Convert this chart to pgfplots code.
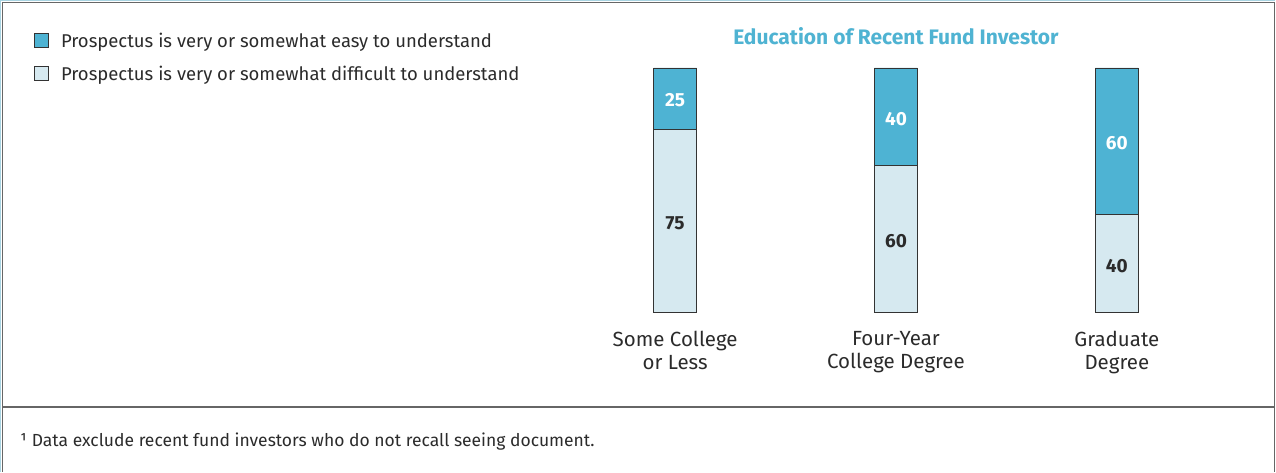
\documentclass[border=0pt]{standalone}
\usepackage{fontspec}
\setmainfont{Fira Sans}
\usepackage{pgfplots}
\pgfplotsset{compat=1.18}
\definecolor{darkbar}{HTML}{4EB3D3}
\definecolor{lightbar}{HTML}{D6E9F0}
\definecolor{titleblue}{HTML}{4FB3D2}
\definecolor{framegray}{HTML}{666666}
\definecolor{edgeblue}{HTML}{A9D4E2}
\definecolor{outline}{HTML}{333333}
\definecolor{txt}{HTML}{2B2B2B}
\tikzset{lab/.style={anchor=center, inner sep=0pt, yshift=-2pt, font=\bfseries\fontsize{19}{22}\selectfont}}
\begin{document}
\begin{tikzpicture}[x=1pt,y=1pt]
\path (0,0) rectangle (1276,472);
\draw[edgeblue, line width=1.5pt] (0.75,0) -- (0.75,471.25) -- (1276,471.25);
\draw[framegray, line width=1.5pt] (2.5,0) -- (2.5,469.5) -- (1275,469.5) -- (1275,0);
\draw[framegray, line width=1.5pt] (2.5,65) -- (1275,65);
\node[anchor=base west, inner sep=0pt, font=\fontsize{17.5}{20}\selectfont, text=txt] at (20,25) {¹ Data exclude recent fund investors who do not recall seeing document.};
\begin{axis}[
  at={(565pt,159pt)}, anchor=south west,
  scale only axis, width=663pt, height=245pt,
  xmin=-0.5, xmax=2.5, ymin=0, ymax=100,
  ybar stacked, bar width=43pt,
  axis line style={draw=none}, tick style={draw=none},
  ytick=\empty,
  xtick={0,1,2},
  xticklabels={{Some College\\or Less},{Four-Year\\College Degree},{Graduate\\Degree}},
  xticklabel style={align=center, inner sep=0pt, anchor=north, yshift=-18pt,
    font=\fontsize{20.5}{23}\selectfont, text=txt},
  title={Education of Recent Fund Investor},
  title style={at={(0.5,1)}, anchor=base, yshift=17pt, inner sep=0pt,
    font=\bfseries\fontsize{21}{24}\selectfont, text=titleblue},
  reverse legend,
  legend cell align=left,
  legend image code/.code={\draw[#1, line width=0.9pt] (0pt,-7pt) rectangle (14pt,7pt);},
  legend style={at={(-0.801,1.153)}, anchor=north west, draw=none, fill=none,
    inner sep=0pt, row sep=13pt, font=\fontsize{18.5}{21}\selectfont, text=txt,
    nodes={inner xsep=12pt}},
  clip=false,
]
\addplot[fill=lightbar, draw=outline, line width=0.9pt] coordinates {(0,75) (1,60) (2,40)};
\addlegendentry{Prospectus is very or somewhat difficult to understand}
\addplot[fill=darkbar, draw=outline, line width=0.9pt] coordinates {(0,25) (1,40) (2,60)};
\addlegendentry{Prospectus is very or somewhat easy to understand}
\coordinate (l1) at (axis cs:0,37.5);
\coordinate (l2) at (axis cs:1,30);
\coordinate (l3) at (axis cs:2,20);
\coordinate (u1) at (axis cs:0,87.5);
\coordinate (u2) at (axis cs:1,80);
\coordinate (u3) at (axis cs:2,70);
\end{axis}
\node[lab, text=txt] at (l1) {75};
\node[lab, text=txt] at (l2) {60};
\node[lab, text=txt] at (l3) {40};
\node[lab, text=white] at (u1) {25};
\node[lab, text=white] at (u2) {40};
\node[lab, text=white] at (u3) {60};
\end{tikzpicture}
\end{document}
